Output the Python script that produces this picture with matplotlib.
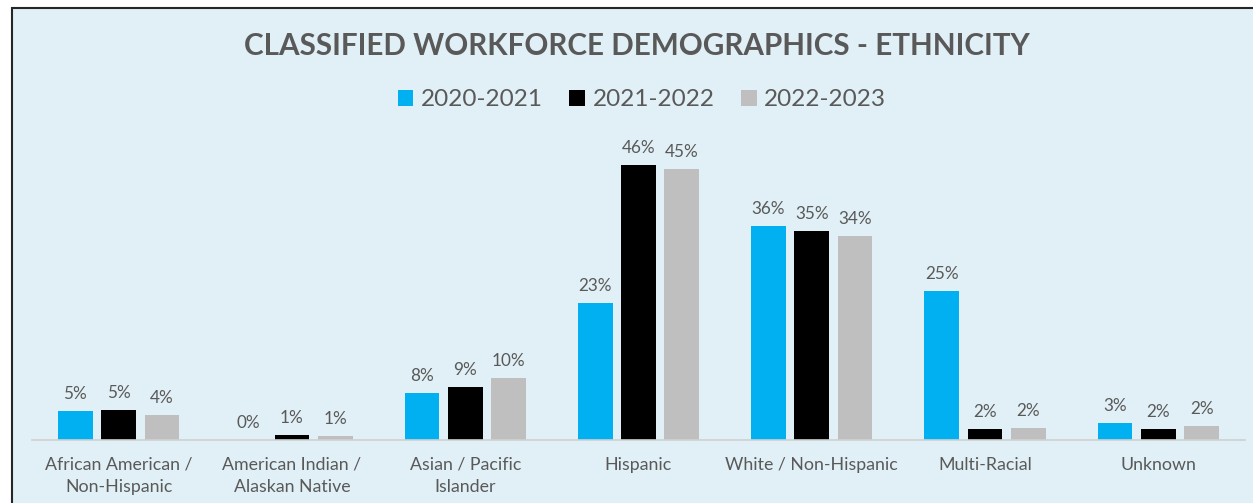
import numpy as np
import matplotlib.pyplot as plt
from matplotlib.patches import Rectangle

categories = [
    "African American /\nNon-Hispanic",
    "American Indian /\nAlaskan Native",
    "Asian / Pacific\nIslander",
    "Hispanic",
    "White / Non-Hispanic",
    "Multi-Racial",
    "Unknown",
]
years = ["2020-2021", "2021-2022", "2022-2023"]
vals_2021 = [4.9, 0.0, 7.8, 22.8, 35.7, 24.8, 2.8]
vals_2022 = [5.0, 0.8, 8.8, 45.9, 34.8, 1.8, 1.8]
vals_2023 = [4.2, 0.7, 10.3, 45.1, 34.0, 2.0, 2.3]

colors = ["#00B0F0", "#000000", "#BFBFBF"]
bg = "#E1F0F6"
txt = "#595959"

plt.rcParams["font.family"] = ["Lato", "DejaVu Sans"]

fig = plt.figure(figsize=(12.53, 5.03), dpi=100, facecolor="white")
# chart area panel (cropped at right/bottom)
fig.patches.append(Rectangle((12 / 1253, -0.1), 1.2, (503 - 8) / 503 + 0.1,
                             transform=fig.transFigure, facecolor=bg,
                             edgecolor="#262626", linewidth=1.5, zorder=-5))

ax = fig.add_axes([32 / 1253, 63 / 503, 1213 / 1253, 300 / 503])
ax.set_facecolor("none")

x = np.arange(len(categories))
w = 0.2
offs = [-0.25, 0.0, 0.25]
for vals, c, o, lab in zip([vals_2021, vals_2022, vals_2023], colors, offs, years):
    bars = ax.bar(x + o, vals, width=w, color=c, label=lab, zorder=2)
    for b, v in zip(bars, vals):
        ax.text(b.get_x() + b.get_width() / 2, v + 1.5, f"{round(v):.0f}%",
                ha="center", va="bottom", fontsize=12.3, color=txt)

ax.set_xlim(-0.5, len(categories) - 0.5)
ax.set_ylim(0, 50)
ax.set_yticks([])
ax.set_xticks(x)
ax.set_xticklabels(categories, fontsize=12.8, color=txt, linespacing=1.45)
ax.tick_params(axis="x", length=0, pad=12)
for s in ["top", "right", "left"]:
    ax.spines[s].set_visible(False)
ax.spines["bottom"].set_color("#D0D0D0")
ax.spines["bottom"].set_linewidth(1.2)

fig.text(637 / 1253, 1 - 46 / 503, "CLASSIFIED WORKFORCE DEMOGRAPHICS - ETHNICITY",
         ha="center", va="center", fontsize=21.3, fontweight="bold", color=txt)

leg = fig.legend(loc="center", bbox_to_anchor=(642 / 1253, 1 - 100 / 503), ncol=3,
                 frameon=False, fontsize=17.5, handlelength=0.65, handleheight=0.65,
                 handletextpad=0.3, columnspacing=1.1)
for t in leg.get_texts():
    t.set_color(txt)

fig.savefig("out.png", dpi=100, facecolor="white")
